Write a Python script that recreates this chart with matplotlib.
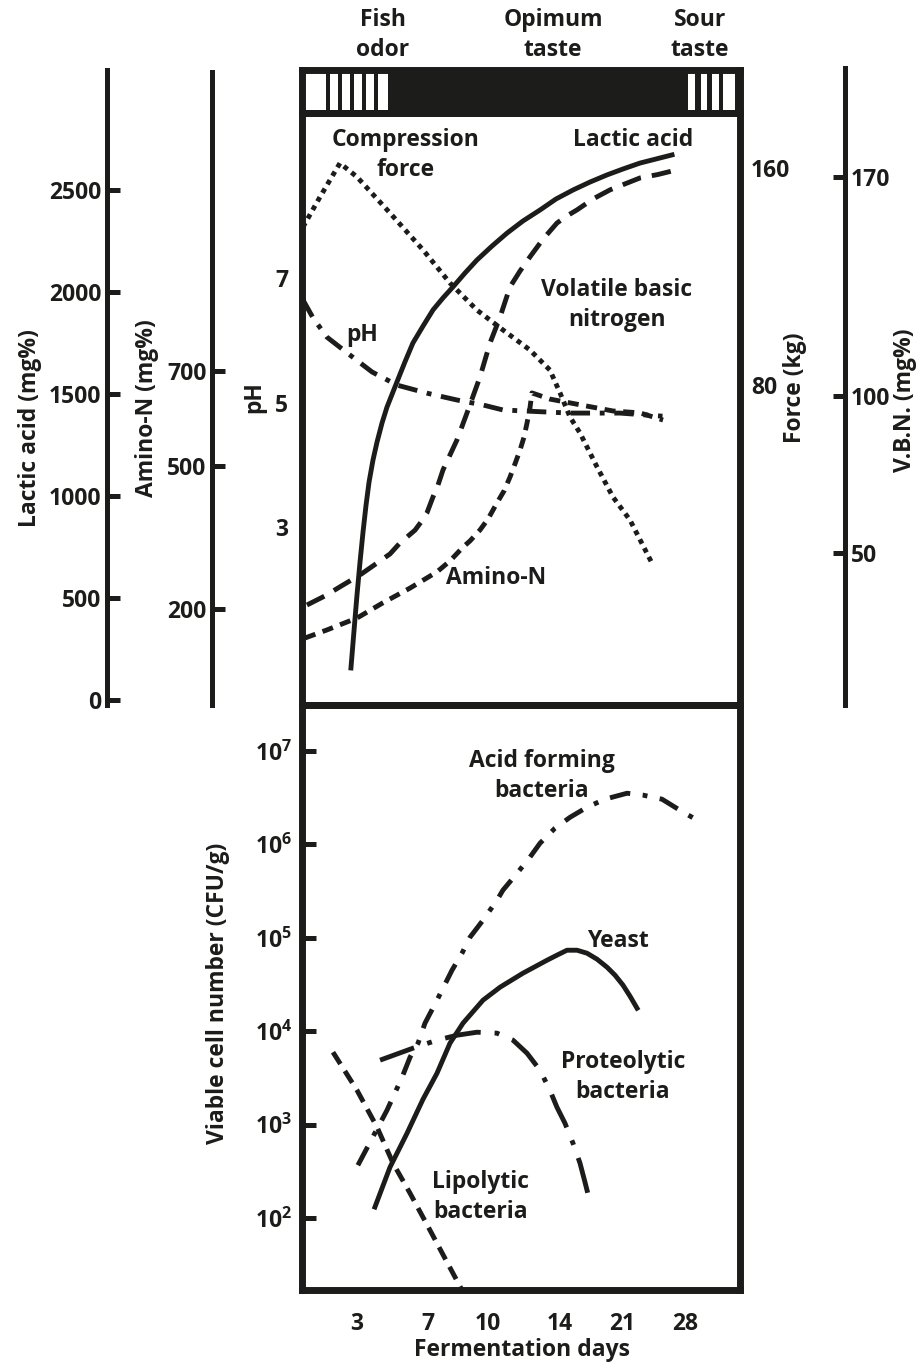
import numpy as np
import matplotlib
matplotlib.use("Agg")
import matplotlib.pyplot as plt

W, H = 917, 1366
INK = "#1c1c1a"

# --- data ---------------------------------------------------------------

DAY_TICKS = [3, 7, 10, 14, 21, 28]

# upper panel
lactic_days = [2.67, 2.84, 3.0, 3.17, 3.34, 3.51, 3.68, 3.90, 4.13, 4.41, 4.69,
               5.25, 5.70, 6.15, 6.72, 7.25, 7.75, 8.25, 8.85, 9.45, 10.22,
               11.06, 11.94, 12.89, 13.78, 15.47, 17.39, 19.31, 21.11, 23.0,
               24.78, 26.56]
lactic_mg = [157, 343, 515, 676, 824, 956, 1069, 1176, 1265, 1358, 1436,
             1559, 1657, 1750, 1833, 1912, 1971, 2025, 2093, 2157, 2225,
             2289, 2348, 2402, 2456, 2500, 2539, 2574, 2603, 2632, 2652, 2672]

vbn_days = [0.27, 1.25, 2.24, 3.17, 4.13, 4.86, 5.42, 6.27, 6.61, 6.94, 7.25,
            7.5, 7.75, 8.1, 8.45, 8.95, 9.6, 10.11, 10.67, 11.22, 11.78, 12.33,
            13.06, 13.83, 14.79, 15.92, 17.73, 19.65, 21.33, 23.0, 25.0, 27.1]
vbn_mg = [33.4, 36.3, 39.8, 43.0, 46.8, 49.7, 53.2, 57.3, 59.9, 62.8, 67.9,
          71.7, 76.5, 81.3, 86.1, 94.7, 106.2, 117, 125.3, 134.9, 140.0, 144.5,
          150.2, 155.3, 157.6, 159.5, 163.0, 165.9, 167.8, 169.7, 170.8, 172.3]

amino_days = [0.16, 1.36, 3.0, 4.46, 5.99, 7.45, 8.1, 8.75, 9.1, 9.6, 10.0,
              10.5, 10.89, 11.22, 11.5, 11.78, 12.0, 12.17, 12.33, 12.44,
              13.44, 16.26, 19.98, 23.0, 25.56]
amino_mg = [139, 156, 181, 213, 244, 278, 301, 330, 343, 366, 389,
            423, 448, 477, 505, 534, 561, 591, 622, 654,
            641, 629, 616, 612, 597]

force_days = [0.05, 0.98, 2.07, 3.0, 4.86, 6.72, 8.1, 9.45, 10.83, 12.33,
              13.44, 14.0, 15.13, 16.26, 18.18, 19.98, 21.89, 24.44]
force_kg = [138.2, 149.3, 161.8, 156.7, 143.4, 129.8, 117.6, 107.6, 100.3, 92.9,
            85.5, 77.1, 68.2, 62.3, 49.8, 38.7, 30.2, 13.6]

ph_days = [0.05, 0.6, 1.36, 2.45, 3.85, 5.25, 6.94, 8.45, 9.75, 10.83,
           13.06, 15.13, 20.77, 25.5]
ph_val = [6.65, 6.36, 6.05, 5.80, 5.49, 5.28, 5.15, 5.04, 4.96, 4.88,
          4.85, 4.83, 4.83, 4.78]

# lower panel (CFU/g)
acid_days = [3.05, 4.69, 5.54, 5.99, 6.44, 6.83, 7.45, 8.2, 8.7, 9.1, 9.75,
             10.5, 10.83, 11.61, 12.33, 12.89, 13.72, 15.13, 17.05, 19.08,
             21.56, 23.33, 25.44, 27.44, 29.53]
acid_cfu = [367, 1426, 3214, 5272, 7447, 12190, 21480, 44980, 68390, 101400,
            154200, 252900, 323600, 489800, 729400, 1.03e6, 1.49e6, 1.95e6,
            2.5e6, 3.05e6, 3.53e6, 3.37e6, 3.05e6, 2.32e6, 1.82e6]

yeast_days = [4.01, 4.86, 5.82, 6.72, 7.45, 8.1, 8.75, 9.75, 10.67, 11.94,
              13.28, 13.83, 14.79, 15.92, 17.05, 18.18, 19.31, 20.21, 21.11,
              21.89, 22.67]
yeast_cfu = [131, 350, 809, 1871, 3548, 7447, 12190, 21480, 29580, 41780,
             57540, 65160, 73620, 73620, 68390, 59020, 48420, 39810, 31120,
             23710, 17620]

proteo_days = [4.3, 6.15, 7.45, 8.45, 9.45, 10.5, 11.39, 12.17, 12.89, 13.44,
               13.83, 14.56, 15.47, 16.26, 16.82, 17.39]
proteo_cfu = [4898, 6577, 8017, 9057, 9750, 9527, 8017, 5808, 3819, 2333,
              1535, 1035, 631, 386, 242, 148]

lipo_days = [1.69, 3.0, 4.13, 5.03, 5.99, 7.1, 7.95, 8.7]
lipo_cfu = [5957, 2333, 938, 386, 184, 74, 33.7, 16.9]

# taste bar stripes (white bands, in days)
fish_stripes = [(0.16, 1.31), (1.53, 1.98), (2.2, 2.62), (2.85, 3.28),
                (3.51, 3.96), (4.2, 4.76)]
sour_stripes = [(28.42, 29.27), (29.99, 30.75), (31.39, 32.36), (32.87, 34.36)]

# --- layout ---------------------------------------------------------------

# the original stretches the day axis: ticks are roughly evenly spaced
DAY_KNOTS = [0, 3, 7, 10, 14, 21, 28, 35]
KNOT_POS = [0, 55, 126, 186, 258, 320, 383, 438]

X0, X1 = 302, 740
BAR_TOP, BAR_BOT, MID, BOT = 70, 113, 705, 1290

plt.rcParams["font.family"] = ["Open Sans", "DejaVu Sans"]
plt.rcParams["font.weight"] = "bold"
plt.rcParams["font.size"] = 16.5
plt.rcParams["mathtext.fontset"] = "custom"
plt.rcParams["mathtext.rm"] = "Open Sans:bold"
plt.rcParams["mathtext.default"] = "rm"
plt.rcParams["lines.scale_dashes"] = False
plt.rcParams["text.color"] = INK
plt.rcParams["xtick.color"] = INK
plt.rcParams["ytick.color"] = INK
plt.rcParams["xtick.labelcolor"] = INK
plt.rcParams["ytick.labelcolor"] = INK


def rect(x0, y0, x1, y1):
    return [x0 / W, 1 - y1 / H, (x1 - x0) / W, (y1 - y0) / H]


def lim(v1, p1, v2, p2, ptop, pbot):
    k = (v2 - v1) / (p2 - p1)
    return v1 + (pbot - p1) * k, v1 + (ptop - p1) * k


def fwd(d):
    return np.interp(d, DAY_KNOTS, KNOT_POS)


def inv(p):
    return np.interp(p, KNOT_POS, DAY_KNOTS)


def day_axis(ax):
    ax.set_xscale("function", functions=(fwd, inv))
    ax.set_xlim(0, 35)


def bare(ax):
    ax.patch.set_visible(False)
    for s in ax.spines.values():
        s.set_visible(False)
    ax.set_xticks([])
    ax.set_yticks([])


def ptext(x, y, s, **kw):
    kw.setdefault("ha", "center")
    kw.setdefault("va", "center")
    fig.text(x / W, 1 - y / H, s, linespacing=1.38, **kw)


fig = plt.figure(figsize=(W / 100, H / 100), dpi=100)

LW = 3.5

# taste bar
ax_bar = fig.add_axes(rect(X0, BAR_TOP, X1, BAR_BOT))
ax_bar.set_facecolor(INK)
day_axis(ax_bar)
for a, b in fish_stripes + sour_stripes:
    ax_bar.axvspan(a, b, color="white", lw=0)
ax_bar.set_xticks([])
ax_bar.set_yticks([])

# upper panel, one overlay per quantity
def overlay(ylim):
    ax = fig.add_axes(rect(X0, BAR_BOT, X1, MID))
    day_axis(ax)
    bare(ax)
    ax.set_ylim(ylim)
    return ax

ax_lac = overlay(lim(0, 700, 2500, 190, BAR_BOT, MID))
ax_lac.plot(lactic_days, lactic_mg, color=INK, lw=LW)

ax_vbn = overlay(lim(50, 553, 170, 177, BAR_BOT, MID))
ax_vbn.plot(vbn_days, vbn_mg, color=INK, lw=LW, dashes=(14, 8))

ax_am = overlay(lim(200, 609, 700, 371, BAR_BOT, MID))
ax_am.plot(amino_days, amino_mg, color=INK, lw=LW, dashes=(8, 5.5))

ax_f = overlay(lim(80, 385, 160, 168, BAR_BOT, MID))
ax_f.plot(force_days, force_kg, color=INK, lw=LW, dashes=(3.5, 3.6))
ax_f.yaxis.tick_right()
ax_f.set_yticks([80, 160])
ax_f.tick_params(axis="y", length=0, pad=8)

ax_ph = overlay(lim(3, 527, 7, 278, BAR_BOT, MID))
ax_ph.plot(ph_days, ph_val, color=INK, lw=LW, dashes=(14, 7, 3.5, 7))
ax_ph.set_yticks([3, 5, 7])
ax_ph.tick_params(axis="y", length=0, pad=10)

# lower panel
ax_b = fig.add_axes(rect(X0, MID, X1, BOT))
day_axis(ax_b)
ax_b.set_yscale("log")
lo, hi = lim(2, 1218, 7, 751, MID, BOT)
ax_b.set_ylim(10 ** lo, 10 ** hi)
ax_b.plot(acid_days, acid_cfu, color=INK, lw=LW, dashes=(15, 9, 3.5, 9))
ax_b.plot(yeast_days, yeast_cfu, color=INK, lw=LW)
ax_b.plot(proteo_days, proteo_cfu, color=INK, lw=LW, dashes=(26, 10, 3.5, 10))
ax_b.plot(lipo_days, lipo_cfu, color=INK, lw=LW, dashes=(10, 6))
ax_b.set_yticks([10 ** n for n in range(2, 8)])
ax_b.set_yticklabels(["$10^{%d}$" % n for n in range(2, 8)])
ax_b.yaxis.set_minor_locator(matplotlib.ticker.NullLocator())
ax_b.tick_params(axis="y", direction="in", length=10, width=3.6, pad=7)
ax_b.set_xticks(DAY_TICKS)
ax_b.set_xticklabels([str(d) for d in DAY_TICKS])
ax_b.xaxis.set_minor_locator(matplotlib.ticker.NullLocator())
ax_b.tick_params(axis="x", length=0, pad=16)
for s in ax_b.spines.values():
    s.set_visible(False)
ax_b.patch.set_visible(False)

# heavy frame drawn on top
for y0, y1 in [(BAR_TOP, BAR_BOT), (BAR_BOT, MID), (MID, BOT)]:
    fr = fig.add_axes(rect(X0, y0, X1, y1))
    fr.patch.set_visible(False)
    fr.set_xticks([])
    fr.set_yticks([])
    for s in fr.spines.values():
        s.set_linewidth(5)
        s.set_color(INK)
        s.set_capstyle("projecting")

# side scales
def scale(x, y0, y1, ylim, ticks, side):
    ax = fig.add_axes(rect(x, y0, x + 1, y1))
    ax.patch.set_visible(False)
    for k, s in ax.spines.items():
        s.set_visible(k == side)
    ax.spines[side].set_linewidth(3.6)
    ax.spines[side].set_color(INK)
    ax.set_xticks([])
    ax.set_ylim(ylim)
    ax.set_yticks(ticks)
    if side == "right":
        ax.yaxis.tick_right()
    ax.tick_params(axis="y", direction="in", length=9, width=3.6, pad=4)
    return ax

scale(107, 70, 705, lim(0, 700, 2500, 190, 70, 705),
      [0, 500, 1000, 1500, 2000, 2500], "left")
scale(212, 72, 705, lim(200, 609, 700, 371, 72, 705), [200, 500, 700], "left")
scale(844, 68, 705, lim(50, 553, 170, 177, 68, 705), [50, 100, 170], "right")

# axis titles
ptext(30, 428, "Lactic acid (mg%)", rotation=90)
ptext(147, 408, "Amino-N (mg%)", rotation=90)
ptext(254, 397, "pH", rotation=90)
ptext(795, 388, "Force (kg)", rotation=90)
ptext(905, 400, "V.B.N. (mg%)", rotation=90)
ptext(218, 993, "Viable cell number (CFU/g)", rotation=90)
ptext(522, 1350, "Fermentation days")

# curve and bar annotations
ptext(383, 35, "Fish\nodor")
ptext(553, 35, "Opimum\ntaste")
ptext(700, 35, "Sour\ntaste")
ptext(406, 155, "Compression\nforce")
ptext(633, 140, "Lactic acid")
ptext(617, 305, "Volatile basic\nnitrogen")
ptext(362, 335, "pH")
ptext(496, 578, "Amino-N")
ptext(542, 776, "Acid forming\nbacteria")
ptext(618, 941, "Yeast")
ptext(623, 1077, "Proteolytic\nbacteria")
ptext(481, 1197, "Lipolytic\nbacteria")

fig.savefig("out.png", dpi=100)
